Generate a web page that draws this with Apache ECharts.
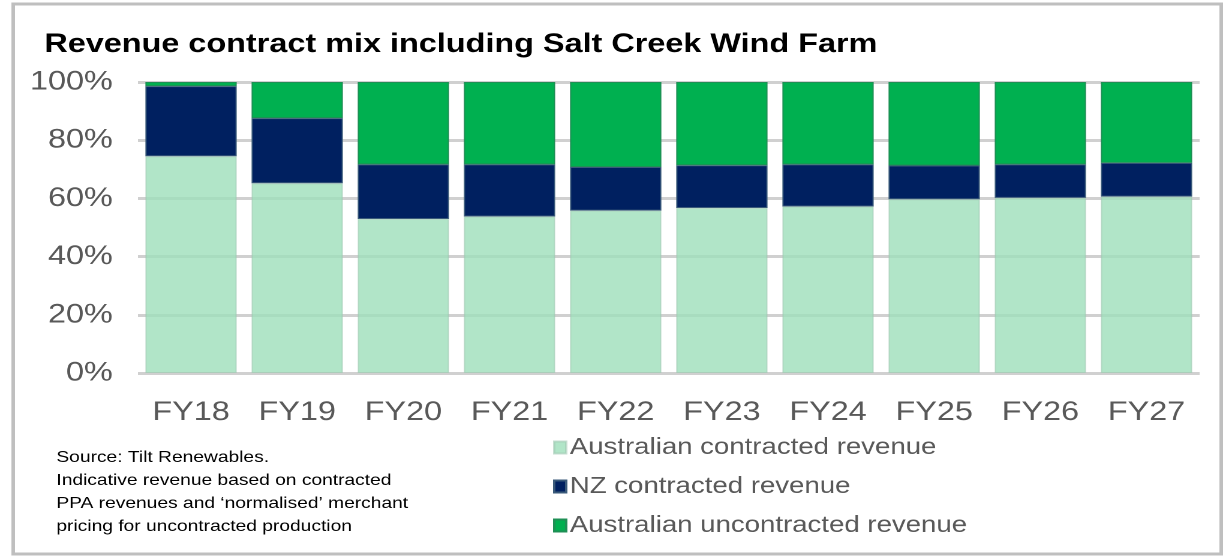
<!DOCTYPE html>
<html>
<head>
<meta charset="utf-8">
<script src="https://cdn.jsdelivr.net/npm/echarts@6/dist/echarts.min.js"></script>
<style>
  html, body { margin: 0; padding: 0; background: #fff; overflow: hidden; }
  /* the source picture is stretched sideways, so draw narrower and widen it */
  #chart { width: 1027px; height: 559px; transform: scaleX(1.1996); transform-origin: 0 0; }
</style>
</head>
<body>
<div id="chart"></div>
<script>
// data (shares in %)
const years = ['FY18', 'FY19', 'FY20', 'FY21', 'FY22', 'FY23', 'FY24', 'FY25', 'FY26', 'FY27'];
const ausContracted = [74.5, 65.2, 52.9, 53.8, 55.8, 56.7, 57.2, 59.7, 60.2, 60.6];
const nzContracted = [24.1, 22.4, 18.8, 17.9, 15.0, 14.7, 14.5, 11.6, 11.5, 11.6];
const ausUncontracted = [1.4, 12.4, 28.3, 28.3, 29.2, 28.6, 28.3, 28.7, 28.3, 27.8];
const sourceLines = [
  'Source: Tilt Renewables.',
  'Indicative revenue based on contracted',
  'PPA revenues and \u2018normalised\u2019 merchant',
  'pricing for uncontracted production'
];

const font = '"Liberation Sans", Arial, sans-serif';
const grey = '#595959';

const chart = echarts.init(document.getElementById('chart'), null, { devicePixelRatio: 2 });

const option = {
  backgroundColor: '#fff',
  animation: false,
  title: {
    text: 'Revenue contract mix including Salt Creek Wind Farm',
    left: 32,
    top: 26,
    textStyle: { fontFamily: font, fontSize: 27, fontWeight: 'bold', color: '#000' }
  },
  grid: { left: 115, right: 27, top: 82, bottom: 186 },
  legend: {
    orient: 'vertical',
    left: 456,
    top: 431,
    itemGap: 16,
    itemWidth: 10,
    itemHeight: 12,
    icon: 'rect',
    textStyle: { fontFamily: font, fontSize: 23, color: grey, padding: [0, 0, 0, -2] },
    data: ['Australian contracted revenue', 'NZ contracted revenue', 'Australian uncontracted revenue']
  },
  xAxis: {
    type: 'category',
    data: years,
    axisLine: { show: false },
    axisTick: { show: false },
    axisLabel: { fontFamily: font, fontSize: 27, color: grey, margin: 26 }
  },
  yAxis: {
    type: 'value',
    min: 0,
    max: 100,
    interval: 20,
    axisLine: { show: false },
    axisTick: { show: false },
    axisLabel: { fontFamily: font, fontSize: 27, color: grey, margin: 21, formatter: '{value}%' },
    splitLine: { lineStyle: { color: '#D0D0D0', width: 3 } }
  },
  series: [
    {
      name: 'Australian contracted revenue',
      type: 'bar',
      stack: 'mix',
      barCategoryGap: '14%',
      data: ausContracted,
      itemStyle: { color: 'rgba(158,223,186,0.8)', borderColor: 'rgba(160,200,178,0.6)', borderWidth: 1 }
    },
    {
      name: 'NZ contracted revenue',
      type: 'bar',
      stack: 'mix',
      data: nzContracted,
      itemStyle: { color: '#002060', borderColor: '#3A5A7A', borderWidth: 1 }
    },
    {
      name: 'Australian uncontracted revenue',
      type: 'bar',
      stack: 'mix',
      data: ausUncontracted,
      itemStyle: { color: '#00B050', borderColor: '#1F8F55', borderWidth: 1 }
    }
  ],
  graphic: [
    {
      type: 'rect',
      shape: { x: 11, y: 4, width: 1007, height: 550 },
      style: { fill: 'none', stroke: '#BFBFBF', lineWidth: 3 },
      silent: true
    },
    {
      type: 'text',
      left: 47,
      top: 446,
      style: {
        text: sourceLines.join('\n'),
        fontFamily: font,
        fontSize: 16,
        lineHeight: 23,
        fill: '#000'
      }
    }
  ]
};

chart.setOption(option);
</script>
</body>
</html>
